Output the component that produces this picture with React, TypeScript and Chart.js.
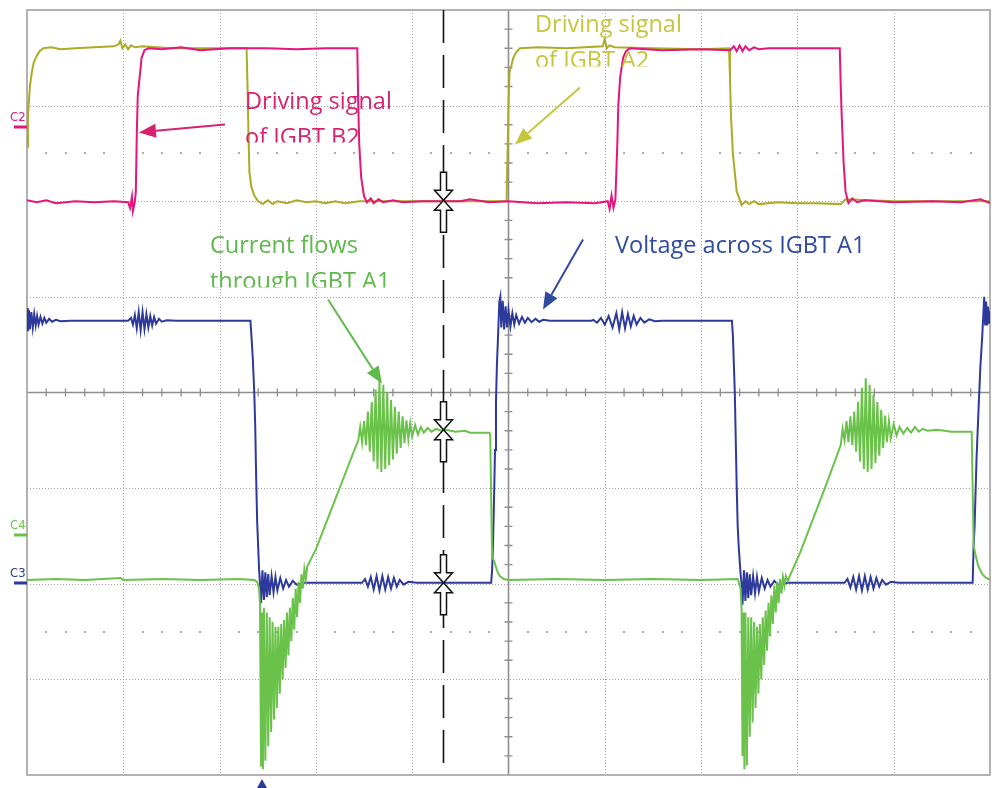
import React, { useEffect, useRef } from 'react';
import { Chart, registerables } from 'chart.js';

Chart.register(...registerables);

// ---- scope grid (divisions) ----
const gridX = [0, 1, 2, 3, 4, 5, 6, 7, 8, 9, 10];
const gridY = [-4, -3, -2, -1, 0, 1, 2, 3, 4];
const sparseDotRows = [2.5, -2.5];

// ---- traces: [time (div), level (div)] ----
const driveA2: [number, number][] = [
  [0, 2.57], [0.01, 2.9], [0.03, 3.2], [0.05, 3.35], [0.07, 3.45], [0.1, 3.52], [0.13, 3.57], [0.17, 3.6],
  [0.25, 3.61], [0.35, 3.59], [0.5, 3.6], [0.7, 3.61], [0.9, 3.62], [0.95, 3.64], [0.97, 3.68], [0.99, 3.6],
  [1.02, 3.64], [1.05, 3.59], [1.08, 3.63], [1.12, 3.61], [1.2, 3.62], [1.5, 3.6], [1.8, 3.6], [2.1, 3.6],
  [2.28, 3.6], [2.29, 3.2], [2.3, 2.7], [2.31, 2.3], [2.33, 2.15], [2.36, 2.06], [2.4, 2.0], [2.45, 1.97],
  [2.5, 2.01], [2.55, 1.97], [2.6, 2.0], [2.7, 1.98], [2.8, 2.01], [2.9, 1.99], [3.0, 2.0], [3.1, 1.98],
  [3.2, 2.0], [3.3, 1.98], [3.45, 2.0], [3.8, 2.0], [4.2, 2.0], [4.6, 2.0], [4.98, 2.0], [4.99, 2.5],
  [5.0, 3.0], [5.01, 3.35], [5.03, 3.42], [5.05, 3.5], [5.08, 3.56], [5.12, 3.6], [5.3, 3.61], [5.6, 3.6],
  [5.98, 3.62], [6.0, 3.7], [6.02, 3.6], [6.05, 3.63], [6.1, 3.61], [6.5, 3.6], [7.0, 3.59], [7.29, 3.6],
  [7.3, 3.3], [7.31, 2.9], [7.33, 2.5], [7.35, 2.3], [7.37, 2.1], [7.4, 2.02], [7.42, 1.96], [7.46, 2.0],
  [7.5, 1.97], [7.55, 2.0], [7.6, 1.97], [7.8, 1.99], [8.0, 1.98], [8.2, 1.98], [8.45, 1.97], [8.5, 2.02],
  [9.0, 2.0], [10, 2.0],
];

const driveB2: [number, number][] = [
  [0, 2.01], [0.1, 1.99], [0.2, 2.01], [0.3, 1.98], [0.5, 2.0], [0.7, 1.99], [0.9, 2.0], [1.05, 1.99],
  [1.07, 1.93], [1.09, 2.05], [1.1, 1.9], [1.12, 2.0], [1.13, 2.1], [1.14, 2.7], [1.15, 3.1], [1.17, 3.3],
  [1.19, 3.5], [1.22, 3.58], [1.26, 3.6], [1.4, 3.59], [1.6, 3.61], [1.8, 3.58], [2.1, 3.6], [2.5, 3.6],
  [2.8, 3.59], [3.1, 3.6], [3.43, 3.6], [3.44, 3.0], [3.45, 2.6], [3.47, 2.25], [3.5, 2.05], [3.53, 1.99],
  [3.57, 2.03], [3.6, 1.98], [3.65, 2.02], [3.7, 1.99], [3.8, 2.01], [3.9, 1.99], [4.1, 2.0], [4.3, 2.0],
  [4.5, 2.0], [4.6, 2.02], [4.8, 1.99], [5.0, 2.0], [5.3, 1.98], [5.6, 1.99], [5.9, 1.98], [6.03, 2.0],
  [6.05, 1.92], [6.07, 2.06], [6.09, 1.93], [6.11, 2.02], [6.13, 2.6], [6.14, 3.0], [6.16, 3.3], [6.19, 3.5],
  [6.22, 3.57], [6.26, 3.6], [6.6, 3.58], [7.0, 3.59], [7.3, 3.58], [7.34, 3.62], [7.37, 3.57], [7.4, 3.63],
  [7.43, 3.57], [7.46, 3.62], [7.5, 3.58], [7.55, 3.61], [7.6, 3.59], [7.7, 3.6], [8.0, 3.6],
  [8.44, 3.6], [8.45, 3.2], [8.46, 2.9], [8.48, 2.4], [8.5, 2.1], [8.53, 1.98], [8.57, 2.03], [8.62, 1.99],
  [8.7, 2.01], [9.0, 1.99], [9.4, 2.0], [9.7, 1.99], [9.9, 2.02], [10, 1.98],
];

const voltageA1: [number, number][] = [
  [0, 0.88], [0.01, 0.64], [0.02, 0.86], [0.03, 0.66], [0.045, 0.84], [0.06, 0.68], [0.075, 0.82], [0.09, 0.7],
  [0.105, 0.8], [0.12, 0.71], [0.14, 0.79], [0.16, 0.72], [0.18, 0.78], [0.2, 0.73], [0.23, 0.77], [0.26, 0.74],
  [0.3, 0.76], [0.35, 0.745], [0.45, 0.75], [1.05, 0.75],
  [1.08, 0.78], [1.1, 0.71], [1.12, 0.81], [1.14, 0.67], [1.16, 0.84], [1.18, 0.65], [1.2, 0.84], [1.22, 0.66],
  [1.24, 0.82], [1.26, 0.68], [1.28, 0.8], [1.3, 0.7], [1.32, 0.79], [1.34, 0.72], [1.37, 0.77], [1.4, 0.74],
  [1.45, 0.755], [1.55, 0.75], [2.32, 0.75],
  [2.33, 0.6], [2.345, 0.35], [2.36, 0.0], [2.37, -0.35], [2.38, -0.9], [2.39, -1.35], [2.4, -1.6], [2.41, -1.85],
  [2.42, -2.0], [2.43, -2.2], [2.445, -1.86], [2.46, -2.17], [2.475, -1.88], [2.49, -2.14], [2.505, -1.9],
  [2.52, -2.12], [2.54, -1.92], [2.56, -2.09], [2.58, -1.93], [2.6, -2.07], [2.63, -1.94], [2.66, -2.05],
  [2.69, -1.96], [2.72, -2.03], [2.76, -1.97], [2.8, -2.01], [2.88, -1.99], [3.48, -1.99],
  [3.51, -1.95], [3.54, -2.03], [3.57, -1.93], [3.6, -2.06], [3.63, -1.92], [3.66, -2.07], [3.69, -1.92],
  [3.72, -2.06], [3.75, -1.93], [3.78, -2.05], [3.81, -1.94], [3.84, -2.03], [3.87, -1.96], [3.91, -2.01],
  [3.96, -1.98], [4.05, -1.99], [4.82, -1.99],
  [4.83, -1.85], [4.84, -1.55], [4.85, -1.1], [4.86, -0.6], [4.87, -0.1], [4.88, 0.3], [4.89, 0.55], [4.905, 0.95],
  [4.915, 1.0], [4.925, 0.68], [4.94, 0.96], [4.955, 0.66], [4.97, 0.9], [4.985, 0.68], [5.0, 0.86], [5.02, 0.69],
  [5.04, 0.83], [5.06, 0.71], [5.08, 0.81], [5.11, 0.72], [5.14, 0.79], [5.17, 0.73], [5.2, 0.78], [5.24, 0.735],
  [5.28, 0.77], [5.32, 0.74], [5.36, 0.76], [5.43, 0.75], [5.86, 0.75],
  [5.88, 0.76], [5.92, 0.73], [5.96, 0.78], [6.0, 0.71], [6.04, 0.8], [6.08, 0.68], [6.12, 0.83], [6.15, 0.66],
  [6.18, 0.84], [6.21, 0.67], [6.24, 0.82], [6.27, 0.69], [6.3, 0.8], [6.33, 0.71], [6.37, 0.78], [6.41, 0.73],
  [6.46, 0.765], [6.52, 0.745], [6.6, 0.75], [7.32, 0.75],
  [7.33, 0.6], [7.34, 0.3], [7.35, 0.0], [7.36, -0.5], [7.37, -1.0], [7.38, -1.4], [7.39, -1.6], [7.41, -1.9],
  [7.42, -2.0], [7.43, -2.22], [7.445, -1.86], [7.46, -2.18], [7.475, -1.88], [7.49, -2.15], [7.505, -1.9],
  [7.52, -2.12], [7.54, -1.92], [7.56, -2.1], [7.58, -1.93], [7.6, -2.08], [7.63, -1.94], [7.66, -2.05],
  [7.69, -1.96], [7.72, -2.03], [7.76, -1.97], [7.8, -2.01], [7.9, -1.99], [8.49, -1.99],
  [8.52, -1.95], [8.55, -2.04], [8.58, -1.93], [8.61, -2.06], [8.64, -1.92], [8.67, -2.07], [8.7, -1.92],
  [8.73, -2.06], [8.76, -1.93], [8.79, -2.05], [8.82, -1.94], [8.85, -2.03], [8.88, -1.96], [8.92, -2.01],
  [8.97, -1.98], [9.05, -1.99], [9.82, -1.99],
  [9.83, -1.6], [9.84, -1.4], [9.86, -0.7], [9.88, -0.2], [9.9, 0.27], [9.92, 0.6], [9.94, 1.0], [9.95, 0.7],
  [9.96, 0.95], [9.97, 0.7], [9.98, 0.9], [9.99, 0.72], [10, 0.85],
];

const currentA1: [number, number][] = [
  [0, -1.96], [0.3, -1.95], [0.6, -1.96], [0.97, -1.94], [1.0, -1.96], [1.4, -1.95], [1.8, -1.96], [2.2, -1.95],
  [2.36, -1.96], [2.39, -1.98], [2.41, -2.05], [2.42, -2.22],
  [2.43, -3.9], [2.44, -2.3], [2.45, -3.94], [2.46, -2.25], [2.475, -3.85], [2.49, -2.3], [2.505, -3.7],
  [2.52, -2.35], [2.535, -3.55], [2.55, -2.4], [2.565, -3.42], [2.58, -2.45], [2.595, -3.3], [2.61, -2.45],
  [2.625, -3.15], [2.64, -2.42], [2.655, -3.0], [2.67, -2.38], [2.685, -2.88], [2.7, -2.3], [2.715, -2.75],
  [2.73, -2.25], [2.745, -2.6], [2.76, -2.15], [2.775, -2.48], [2.79, -2.05], [2.805, -2.35], [2.82, -1.98],
  [2.835, -2.2], [2.85, -1.9], [2.865, -2.05], [2.88, -1.85], [2.895, -1.95], [2.91, -1.82],
  [3.0, -1.64], [3.1, -1.38], [3.2, -1.12], [3.3, -0.86], [3.4, -0.6], [3.44, -0.5],
  [3.46, -0.36], [3.48, -0.52], [3.5, -0.3], [3.52, -0.55], [3.54, -0.2], [3.56, -0.62], [3.58, -0.1],
  [3.6, -0.72], [3.62, 0.03], [3.64, -0.8], [3.66, 0.12], [3.68, -0.83], [3.7, 0.08], [3.72, -0.8], [3.74, 0.0],
  [3.76, -0.76], [3.78, -0.08], [3.8, -0.7], [3.82, -0.15], [3.84, -0.64], [3.86, -0.2], [3.88, -0.58],
  [3.9, -0.25], [3.92, -0.53], [3.94, -0.29], [3.96, -0.49], [3.98, -0.32], [4.0, -0.46], [4.03, -0.34],
  [4.06, -0.44], [4.09, -0.36], [4.12, -0.42], [4.16, -0.37], [4.2, -0.41], [4.25, -0.38], [4.3, -0.4],
  [4.35, -0.39], [4.45, -0.41], [4.55, -0.4], [4.6, -0.42], [4.8, -0.42], [4.81, -0.44], [4.82, -1.1],
  [4.83, -1.72], [4.85, -1.76], [4.88, -1.86], [4.91, -1.92], [4.95, -1.95], [5.0, -1.96], [5.5, -1.95],
  [6.0, -1.96], [6.5, -1.95], [7.0, -1.96], [7.38, -1.95], [7.41, -2.05], [7.42, -2.25],
  [7.43, -3.8], [7.44, -2.3], [7.45, -3.94], [7.46, -2.3], [7.475, -3.9], [7.49, -2.35], [7.505, -3.6],
  [7.52, -2.35], [7.535, -3.45], [7.55, -2.4], [7.565, -3.3], [7.58, -2.45], [7.595, -3.15], [7.61, -2.42],
  [7.625, -3.0], [7.64, -2.35], [7.655, -2.85], [7.67, -2.28], [7.685, -2.7], [7.7, -2.2], [7.715, -2.55],
  [7.73, -2.12], [7.745, -2.42], [7.76, -2.02], [7.775, -2.3], [7.79, -1.98], [7.805, -2.2], [7.82, -1.95],
  [7.835, -2.1], [7.85, -1.93], [7.865, -2.02], [7.88, -1.92], [7.9, -1.97], [7.93, -1.9],
  [8.03, -1.67], [8.16, -1.33], [8.3, -0.96], [8.45, -0.55],
  [8.47, -0.38], [8.49, -0.5], [8.51, -0.3], [8.53, -0.52], [8.55, -0.25], [8.57, -0.55], [8.59, -0.2],
  [8.61, -0.62], [8.63, -0.1], [8.65, -0.72], [8.67, 0.05], [8.69, -0.8], [8.71, 0.15], [8.73, -0.83],
  [8.75, 0.08], [8.77, -0.8], [8.79, -0.02], [8.81, -0.74], [8.83, -0.1], [8.85, -0.66], [8.87, -0.18],
  [8.89, -0.58], [8.91, -0.24], [8.93, -0.52], [8.95, -0.3], [8.97, -0.48], [9.0, -0.33], [9.03, -0.45],
  [9.06, -0.36], [9.1, -0.43], [9.14, -0.37], [9.18, -0.42], [9.22, -0.36], [9.26, -0.41], [9.3, -0.38],
  [9.35, -0.4], [9.45, -0.39], [9.6, -0.41], [9.81, -0.41], [9.82, -1.0], [9.83, -1.6], [9.85, -1.7],
  [9.88, -1.82], [9.92, -1.9], [9.96, -1.94], [10, -1.96],
];

// ---- cursor, trigger and channel markers ----
const cursorTime = 4.32;
const cursorLevels = [2.01, -0.39, -1.99];
const triggerTime = 2.44;
const channelNames = ['C2', 'C4', 'C3'];
const channelOffsets = [2.78, -1.485, -1.99];

// ---- annotation texts ----
const textB2 = ['Driving signal', 'of IGBT B2'];
const textA2 = ['Driving signal', 'of IGBT A2'];
const textCurrent = ['Current flows', 'through IGBT A1'];
const textVoltage = ['Voltage across IGBT A1'];

const COL = {
  pink: '#E5157B',
  pinkText: '#D9226F',
  olive: '#ABAB27',
  oliveText: '#C6C63C',
  blue: '#2D3A9B',
  blueText: '#2F4A9E',
  green: '#6BC24B',
  greenText: '#5DB94A',
};

// annotation layout (in scope divisions)
const annotations = [
  { lines: textB2, color: COL.pinkText, x: 2.264, y: 2.96, clip: 2.615 },
  { lines: textA2, color: COL.oliveText, x: 5.275, y: 3.766, clip: 3.41 },
  { lines: textCurrent, color: COL.greenText, x: 1.9, y: 1.464, clip: 1.098 },
  { lines: textVoltage, color: COL.blueText, x: 6.106, y: 1.464, clip: null as number | null },
];

const arrows = [
  { from: [2.056, 2.803], to: [1.163, 2.72], color: COL.pinkText },
  { from: [5.742, 3.19], to: [5.067, 2.594], color: COL.oliveText },
  { from: [3.126, 0.973], to: [3.686, 0.094], color: COL.greenText },
  { from: [5.774, 1.6], to: [5.358, 0.868], color: COL.blueText },
];

const channelColors = [COL.pink, COL.green, COL.blue];

function drawArrow(ctx: CanvasRenderingContext2D, x1: number, y1: number, x2: number, y2: number, color: string) {
  const ang = Math.atan2(y2 - y1, x2 - x1);
  const head = 17;
  const half = 7;
  const bx = x2 - head * Math.cos(ang);
  const by = y2 - head * Math.sin(ang);
  ctx.strokeStyle = color;
  ctx.lineWidth = 2;
  ctx.setLineDash([]);
  ctx.beginPath();
  ctx.moveTo(x1, y1);
  ctx.lineTo(bx, by);
  ctx.stroke();
  ctx.fillStyle = color;
  ctx.beginPath();
  ctx.moveTo(x2, y2);
  ctx.lineTo(bx + half * Math.sin(ang), by - half * Math.cos(ang));
  ctx.lineTo(bx - half * Math.sin(ang), by + half * Math.cos(ang));
  ctx.closePath();
  ctx.fill();
}

function drawCursorMark(ctx: CanvasRenderingContext2D, cx: number, cy: number) {
  ctx.beginPath();
  ctx.moveTo(cx - 3, cy - 28);
  ctx.lineTo(cx + 3, cy - 28);
  ctx.lineTo(cx + 3, cy - 10);
  ctx.lineTo(cx + 9, cy - 10);
  ctx.lineTo(cx, cy);
  ctx.lineTo(cx - 9, cy - 10);
  ctx.lineTo(cx - 3, cy - 10);
  ctx.closePath();
  ctx.moveTo(cx, cy);
  ctx.lineTo(cx + 9, cy + 10);
  ctx.lineTo(cx + 3, cy + 10);
  ctx.lineTo(cx + 3, cy + 32);
  ctx.lineTo(cx - 3, cy + 32);
  ctx.lineTo(cx - 3, cy + 10);
  ctx.lineTo(cx - 9, cy + 10);
  ctx.closePath();
  ctx.fillStyle = '#ffffff';
  ctx.fill();
  ctx.strokeStyle = '#111111';
  ctx.lineWidth = 1.5;
  ctx.setLineDash([]);
  ctx.stroke();
}

const scopePlugin = {
  id: 'scopeDecor',
  beforeDatasetsDraw(chart: any) {
    const { ctx, chartArea: a, scales } = chart;
    const xs = scales.x;
    const ys = scales.y;
    ctx.save();
    // dotted grid
    ctx.strokeStyle = '#a3a3a3';
    ctx.lineWidth = 1;
    ctx.setLineDash([1, 2]);
    gridX.forEach((g) => {
      if (g === 5 || g === gridX[0] || g === gridX[gridX.length - 1]) return;
      const px = Math.round(xs.getPixelForValue(g)) + 0.5;
      ctx.beginPath();
      ctx.moveTo(px, a.top);
      ctx.lineTo(px, a.bottom);
      ctx.stroke();
    });
    gridY.forEach((g) => {
      if (g === 0 || g === gridY[0] || g === gridY[gridY.length - 1]) return;
      const py = Math.round(ys.getPixelForValue(g)) + 0.5;
      ctx.beginPath();
      ctx.moveTo(a.left, py);
      ctx.lineTo(a.right, py);
      ctx.stroke();
    });
    ctx.setLineDash([]);
    // sparse dotted rows
    ctx.fillStyle = '#adadad';
    sparseDotRows.forEach((r) => {
      const py = ys.getPixelForValue(r);
      for (let i = 1; i < 50; i++) {
        if (i % 5 === 0) continue;
        const px = xs.getPixelForValue(i * 0.2);
        ctx.fillRect(Math.round(px) - 1, Math.round(py) - 1, 2, 2);
      }
    });
    // centre axes with minor ticks
    ctx.strokeStyle = '#8e8e8e';
    ctx.lineWidth = 1.6;
    const cx = xs.getPixelForValue(5);
    const cy = ys.getPixelForValue(0);
    ctx.beginPath();
    ctx.moveTo(cx, a.top);
    ctx.lineTo(cx, a.bottom);
    ctx.moveTo(a.left, cy);
    ctx.lineTo(a.right, cy);
    ctx.stroke();
    ctx.lineWidth = 1.3;
    ctx.beginPath();
    for (let i = 1; i < 50; i++) {
      if (i % 5 === 0) continue;
      const px = xs.getPixelForValue(i * 0.2);
      ctx.moveTo(px, cy - 4);
      ctx.lineTo(px, cy + 4);
    }
    for (let i = 1; i < 40; i++) {
      if (i % 5 === 0) continue;
      const py = ys.getPixelForValue(-4 + i * 0.2);
      ctx.moveTo(cx - 4, py);
      ctx.lineTo(cx + 4, py);
    }
    ctx.stroke();
    // border
    ctx.strokeStyle = '#a0a0a0';
    ctx.lineWidth = 1.6;
    ctx.strokeRect(a.left, a.top, a.right - a.left, a.bottom - a.top);
    ctx.restore();
  },
  afterDatasetsDraw(chart: any) {
    const { ctx, chartArea: a, scales } = chart;
    const xs = scales.x;
    const ys = scales.y;
    ctx.save();
    // cursor dashed line
    const cpx = Math.round(xs.getPixelForValue(cursorTime)) + 0.5;
    ctx.strokeStyle = '#111111';
    ctx.lineWidth = 1.6;
    ctx.setLineDash([33, 12]);
    ctx.beginPath();
    ctx.moveTo(cpx, a.top);
    ctx.lineTo(cpx, a.bottom);
    ctx.stroke();
    ctx.setLineDash([]);
    cursorLevels.forEach((lv) => drawCursorMark(ctx, cpx, ys.getPixelForValue(lv)));

    // annotations
    ctx.font = '23.5px "Open Sans", "Noto Sans", sans-serif';
    ctx.textBaseline = 'alphabetic';
    ctx.textAlign = 'left';
    annotations.forEach((an) => {
      const px = xs.getPixelForValue(an.x);
      const py = ys.getPixelForValue(an.y);
      ctx.fillStyle = an.color;
      an.lines.forEach((line, i) => {
        if (i > 0 && an.clip !== null) {
          ctx.save();
          ctx.beginPath();
          ctx.rect(0, 0, chart.width, ys.getPixelForValue(an.clip));
          ctx.clip();
          ctx.fillText(line, px, py + 36 * i);
          ctx.restore();
        } else {
          ctx.fillText(line, px, py + 36 * i);
        }
      });
    });
    arrows.forEach((ar) => {
      drawArrow(
        ctx,
        xs.getPixelForValue(ar.from[0]),
        ys.getPixelForValue(ar.from[1]),
        xs.getPixelForValue(ar.to[0]),
        ys.getPixelForValue(ar.to[1]),
        ar.color,
      );
    });

    // channel labels and offset markers
    ctx.font = '13px "DejaVu Sans Condensed", "Liberation Sans Narrow", sans-serif';
    channelNames.forEach((name, i) => {
      const py = Math.round(ys.getPixelForValue(channelOffsets[i]));
      ctx.fillStyle = channelColors[i];
      ctx.fillText(name, 10, py - 6);
      ctx.fillRect(14, py - 1.5, a.left - 14, 3);
    });

    // trigger marker
    const tx = xs.getPixelForValue(triggerTime);
    ctx.fillStyle = COL.blue;
    ctx.beginPath();
    ctx.moveTo(tx, a.bottom + 4);
    ctx.lineTo(tx + 5, chart.height);
    ctx.lineTo(tx - 5, chart.height);
    ctx.closePath();
    ctx.fill();
    ctx.restore();
  },
};

const toXY = (pts: [number, number][]) => pts.map(([x, y]) => ({ x, y }));

export default function App() {
  const canvasRef = useRef<HTMLCanvasElement | null>(null);

  useEffect(() => {
    const canvas = canvasRef.current;
    if (!canvas) return;
    const line = (data: [number, number][], color: string, width: number) => ({
      data: toXY(data),
      borderColor: color,
      borderWidth: width,
      pointRadius: 0,
      tension: 0,
      fill: false,
    });
    const chart = new Chart(canvas, {
      type: 'line',
      data: {
        datasets: [
          line(driveB2, COL.pink, 2),
          line(driveA2, COL.olive, 2),
          line(currentA1, COL.green, 2),
          line(voltageA1, COL.blue, 2),
        ],
      },
      options: {
        responsive: false,
        animation: false,
        events: [],
        layout: { padding: { left: 27, top: 10, right: 2, bottom: 13 } },
        scales: {
          x: { type: 'linear', min: 0, max: 10, display: false },
          y: { type: 'linear', min: -4, max: 4, display: false },
        },
        plugins: {
          legend: { display: false },
          tooltip: { enabled: false },
        },
      },
      plugins: [scopePlugin],
    });
    return () => chart.destroy();
  }, []);

  return (
    <div style={{ position: 'absolute', left: 0, top: 0, width: 992, height: 788, background: '#ffffff' }}>
      <canvas ref={canvasRef} width={992} height={788} style={{ display: 'block' }} />
    </div>
  );
}
